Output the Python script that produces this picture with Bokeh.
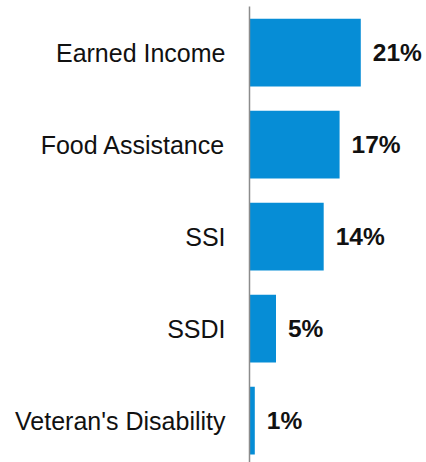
from bokeh.plotting import figure
from bokeh.models import ColumnDataSource, Range1d, FixedTicker
from bokeh.core.properties import value
from bokeh.embed import file_html
from bokeh.resources import INLINE

categories = ["Earned Income", "Food Assistance", "SSI", "SSDI", "Veteran's Disability"]
percents = [21, 17, 14, 5, 1]
labels = [f"{v}%" for v in percents]

positions = list(range(len(categories)))
source = ColumnDataSource(dict(y=positions, v=percents, lab=labels, cat=categories))

p = figure(width=426, height=462, output_backend="svg", toolbar_location=None,
           x_range=Range1d(0, 33.4), y_range=Range1d(4.455, -0.502),
           x_axis_location=None, min_border_left=249, min_border_right=0,
           min_border_top=6, min_border_bottom=0)
p.outline_line_color = None
p.grid.visible = False
p.background_fill_color = "white"
p.border_fill_color = "white"

p.hbar(y="y", right="v", left=0, height=0.736, source=source,
       fill_color="#068dd6", line_color=None)
p.text(x="v", y="y", text="lab", source=source, x_offset=12,
       text_baseline="middle", text_align="left", text_font=value("Liberation Sans"),
       text_font_style="bold", text_font_size="24.5px", text_color="#111111")

ax = p.yaxis[0]
ax.ticker = FixedTicker(ticks=positions)
ax.major_label_overrides = {i: c for i, c in zip(positions, categories)}
ax.major_tick_line_color = None
ax.minor_tick_line_color = None
ax.axis_line_color = "#8c8c8c"
ax.axis_line_width = 1.5
ax.major_label_standoff = 18
ax.major_label_text_font = "Liberation Sans"
ax.major_label_text_font_size = "25px"
ax.major_label_text_color = "#111111"

open("out.html", "w").write(file_html(p, INLINE))
